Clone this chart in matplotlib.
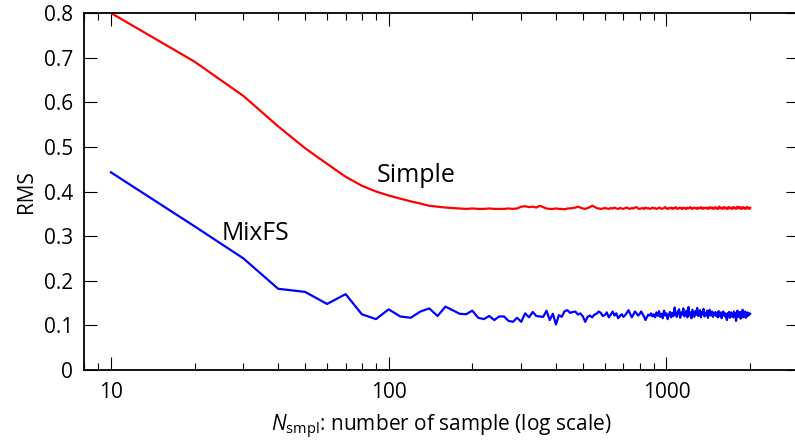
import matplotlib
matplotlib.use("Agg")
import matplotlib.pyplot as plt
from matplotlib.ticker import FixedLocator, NullFormatter, LogLocator

plt.rcParams['font.family'] = ['Open Sans', 'DejaVu Sans']
plt.rcParams['mathtext.fontset'] = 'custom'
plt.rcParams['mathtext.rm'] = 'Open Sans'
plt.rcParams['mathtext.it'] = 'Open Sans:italic'

# sample sizes: 10, 20, ..., 2000
n_samples = list(range(10, 2001, 10))

rms_simple = [
    0.800, 0.691, 0.614, 0.546, 0.497, 0.462, 0.433, 0.413, 0.400, 0.391,
    0.384, 0.378, 0.373, 0.368, 0.366, 0.364, 0.363, 0.362, 0.361, 0.362,
    0.361, 0.361, 0.362, 0.361, 0.361, 0.361, 0.362, 0.361, 0.362, 0.366,
    0.367, 0.365, 0.366, 0.364, 0.368, 0.365, 0.362, 0.361, 0.361, 0.362,
    0.361, 0.361, 0.360, 0.362, 0.362, 0.363, 0.364, 0.366, 0.364, 0.362,
    0.361, 0.363, 0.365, 0.368, 0.366, 0.363, 0.362, 0.361, 0.362, 0.363,
    0.362, 0.361, 0.363, 0.362, 0.364, 0.362, 0.361, 0.363, 0.362, 0.361,
    0.363, 0.364, 0.362, 0.361, 0.363, 0.362, 0.364, 0.365, 0.362, 0.361,
    0.362, 0.363, 0.361, 0.364, 0.362, 0.363, 0.361, 0.362, 0.364, 0.362,
    0.363, 0.361, 0.362, 0.364, 0.363, 0.361, 0.362, 0.363, 0.365, 0.362,
    0.361, 0.363, 0.362, 0.364, 0.361, 0.363, 0.362, 0.365, 0.362, 0.361,
    0.363, 0.364, 0.362, 0.361, 0.364, 0.362, 0.363, 0.361, 0.364, 0.362,
    0.363, 0.365, 0.362, 0.361, 0.363, 0.364, 0.362, 0.363, 0.361, 0.364,
    0.362, 0.363, 0.365, 0.362, 0.361, 0.364, 0.363, 0.362, 0.364, 0.363,
    0.361, 0.364, 0.362, 0.365, 0.363, 0.362, 0.364, 0.361, 0.363, 0.365,
    0.362, 0.363, 0.361, 0.364, 0.366, 0.362, 0.363, 0.364, 0.361, 0.363,
    0.365, 0.362, 0.364, 0.363, 0.361, 0.364, 0.362, 0.365, 0.363, 0.362,
    0.364, 0.361, 0.363, 0.365, 0.362, 0.364, 0.363, 0.361, 0.364, 0.366,
    0.362, 0.363, 0.365, 0.362, 0.364, 0.361, 0.363, 0.365, 0.362, 0.364,
    0.363, 0.361, 0.364, 0.362, 0.365, 0.363, 0.362, 0.364, 0.361, 0.363,
]

rms_mixfs = [
    0.443, 0.322, 0.250, 0.182, 0.175, 0.148, 0.170, 0.125, 0.114, 0.136,
    0.120, 0.117, 0.131, 0.138, 0.121, 0.142, 0.134, 0.126, 0.125, 0.133,
    0.117, 0.114, 0.121, 0.112, 0.120, 0.120, 0.110, 0.108, 0.117, 0.108,
    0.127, 0.118, 0.130, 0.121, 0.120, 0.119, 0.133, 0.112, 0.126, 0.102,
    0.123, 0.119, 0.132, 0.134, 0.128, 0.130, 0.131, 0.124, 0.127, 0.120,
    0.108, 0.119, 0.122, 0.118, 0.124, 0.126, 0.131, 0.128, 0.121, 0.123,
    0.129, 0.118, 0.124, 0.131, 0.122, 0.127, 0.116, 0.121, 0.125, 0.119,
    0.123, 0.128, 0.134, 0.126, 0.118, 0.124, 0.131, 0.127, 0.122, 0.125,
    0.131, 0.126, 0.120, 0.112, 0.118, 0.124, 0.122, 0.127, 0.120, 0.125,
    0.118, 0.129, 0.121, 0.132, 0.119, 0.126, 0.116, 0.133, 0.122, 0.127,
    0.114, 0.124, 0.130, 0.118, 0.128, 0.121, 0.140, 0.125, 0.119, 0.131,
    0.136, 0.117, 0.129, 0.124, 0.138, 0.120, 0.126, 0.133, 0.118, 0.141,
    0.122, 0.129, 0.116, 0.135, 0.127, 0.119, 0.132, 0.124, 0.139, 0.121,
    0.127, 0.134, 0.118, 0.130, 0.125, 0.137, 0.120, 0.128, 0.123, 0.133,
    0.117, 0.129, 0.135, 0.122, 0.126, 0.131, 0.119, 0.128, 0.124, 0.130,
    0.121, 0.127, 0.118, 0.132, 0.125, 0.120, 0.129, 0.116, 0.126, 0.131,
    0.122, 0.128, 0.119, 0.124, 0.112, 0.127, 0.121, 0.130, 0.117, 0.125,
    0.129, 0.120, 0.126, 0.118, 0.131, 0.123, 0.127, 0.110, 0.124, 0.133,
    0.119, 0.126, 0.121, 0.130, 0.115, 0.128, 0.122, 0.135, 0.118, 0.127,
    0.123, 0.131, 0.117, 0.126, 0.120, 0.129, 0.122, 0.127, 0.124, 0.126,
]

y_ticks = [0, 0.1, 0.2, 0.3, 0.4, 0.5, 0.6, 0.7, 0.8]
y_tick_labels = ["0", "0.1", "0.2", "0.3", "0.4", "0.5", "0.6", "0.7", "0.8"]
x_ticks = [10, 100, 1000]
x_tick_labels = ["10", "100", "1000"]

fig = plt.figure(figsize=(7.95, 4.41), dpi=100)
ax = fig.add_axes([84 / 795, 1 - 370 / 441, 715 / 795, 357 / 441])

ax.plot(n_samples, rms_simple, color="#ff0000", lw=1.6)
ax.plot(n_samples, rms_mixfs, color="#0000ff", lw=1.6)

ax.set_xscale("log")
ax.set_xlim(8, 3000)
ax.set_ylim(0, 0.8)

ax.xaxis.set_major_locator(FixedLocator(x_ticks))
ax.set_xticklabels(x_tick_labels)
ax.xaxis.set_minor_locator(LogLocator(base=10, subs=range(2, 10)))
ax.xaxis.set_minor_formatter(NullFormatter())
ax.set_yticks(y_ticks)
ax.set_yticklabels(y_tick_labels)

ax.tick_params(axis="both", which="major", direction="in", length=9.4, width=0.8,
               top=True, right=True, labelsize=15, colors="black")
ax.tick_params(axis="x", which="major", pad=9)
ax.tick_params(axis="y", which="major", pad=8)
ax.tick_params(axis="x", which="minor", direction="in", length=5, width=0.8,
               top=True, bottom=True)
for sp in ax.spines.values():
    sp.set_linewidth(1.3)

ax.set_xlabel(r"$N_{\mathrm{smpl}}$: number of sample (log scale)", fontsize=15, labelpad=7)
ax.set_ylabel("RMS", fontsize=15, labelpad=5)

ax.text(90.5, 0.4204, "Simple", fontsize=18, ha="left", va="baseline")
ax.text(25.0, 0.2915, "MixFS", fontsize=17.8, ha="left", va="baseline")

fig.savefig("out.png", dpi=100)
